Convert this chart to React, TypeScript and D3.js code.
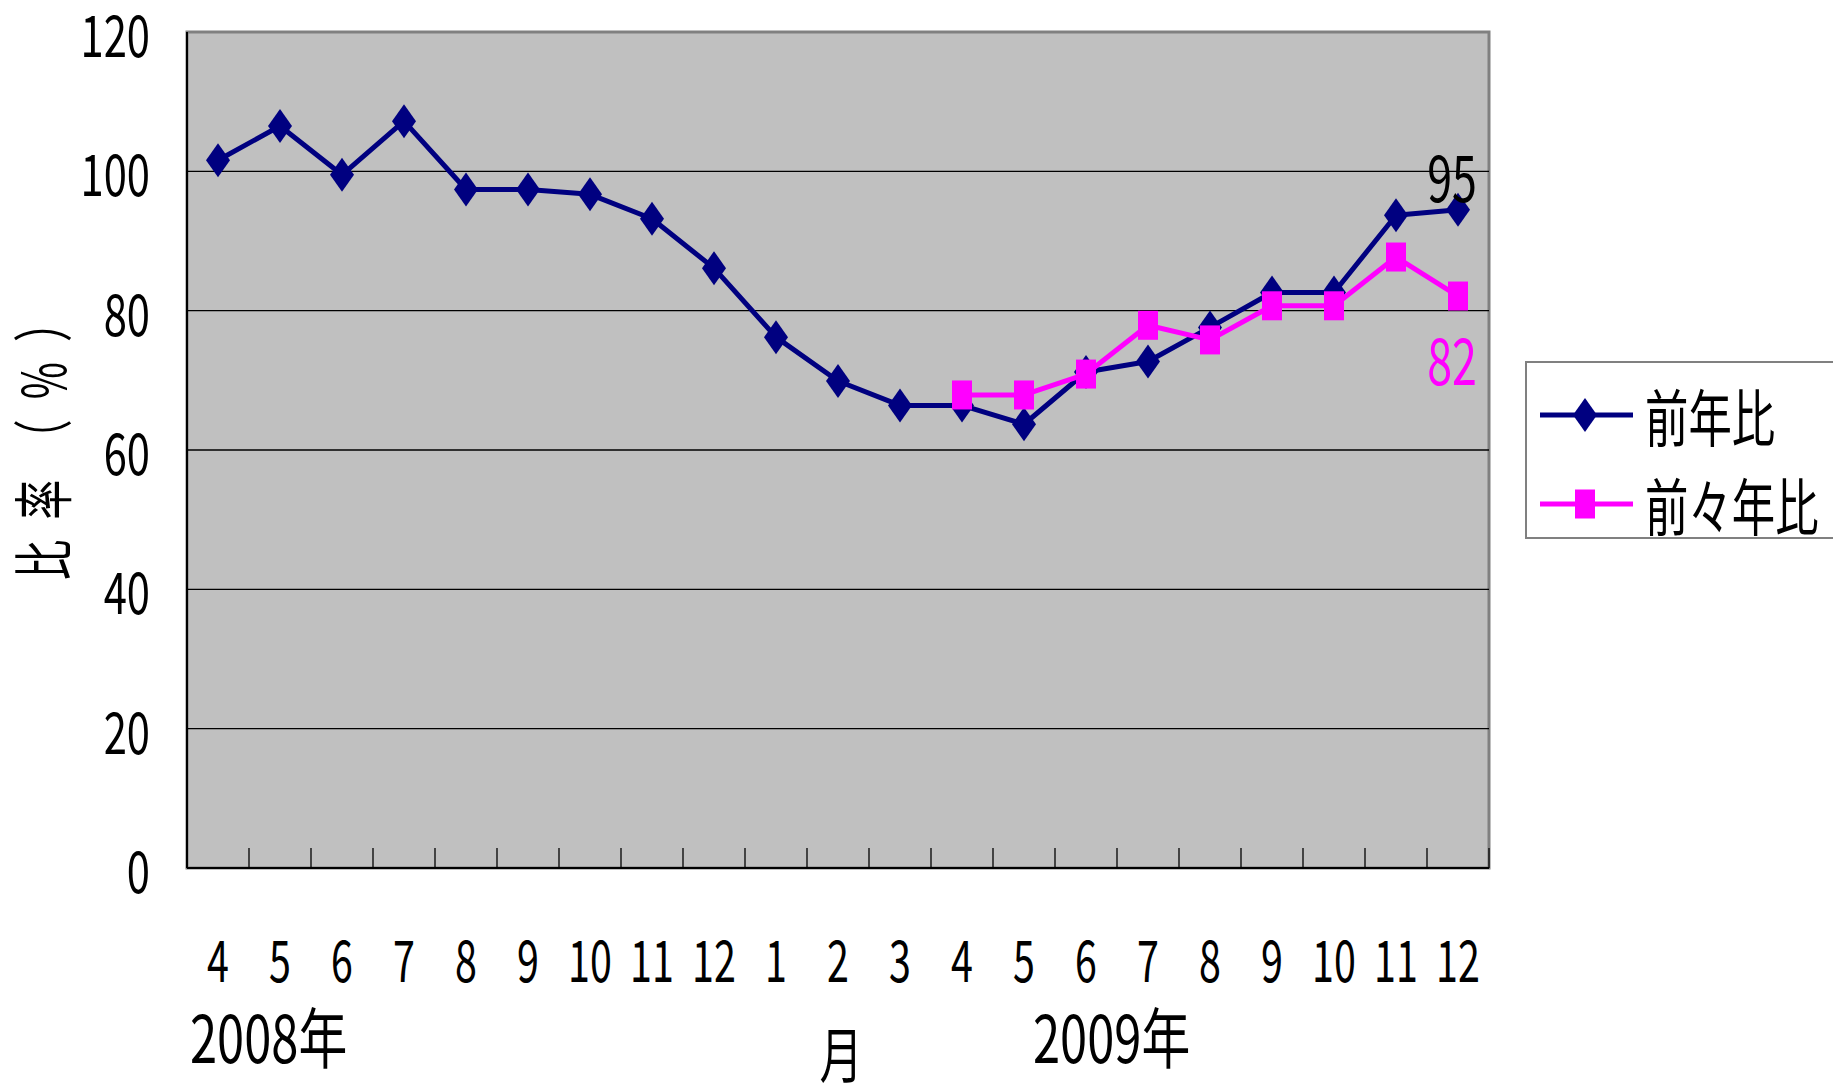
import React from 'react';
import * as d3 from 'd3';

// Chart data
const months: string[] = ['4', '5', '6', '7', '8', '9', '10', '11', '12', '1', '2', '3', '4', '5', '6', '7', '8', '9', '10', '11', '12'];
const yearLabels: string[] = ['2008年', '2009年'];
const seriesNames: string[] = ['前年比', '前々年比'];
const yoy: number[] = [101.6, 106.5, 99.5, 107.2, 97.4, 97.4, 96.7, 93.2, 86.1, 76.2, 69.9, 66.4, 66.4, 63.7, 71.2, 72.7, 77.6, 82.6, 82.6, 93.7, 94.5];
const yo2y: (number | null)[] = [null, null, null, null, null, null, null, null, null, null, null, null, 67.9, 67.9, 70.9, 77.9, 75.8, 80.7, 80.7, 87.7, 82.1];
const yTicks: number[] = [0, 20, 40, 60, 80, 100, 120];
const endLabels: string[] = ['95', '82'];

const W = 1833;
const H = 1089;
const plot = { left: 187, right: 1489, top: 32, bottom: 868 };
const NAVY = '#000080';
const MAGENTA = '#FF00FF';
const FONT = '"Noto Sans CJK JP", sans-serif';

// Horizontally squeezed text, to mimic the tall narrow glyphs of the original
const SqText: React.FC<{
  x: number; y: number; size: number; sx?: number;
  anchor?: 'start' | 'middle' | 'end'; fill?: string; children: React.ReactNode;
}> = ({ x, y, size, sx = 0.7, anchor = 'start', fill = '#000', children }) => (
  <text
    transform={`translate(${x},${y}) scale(${sx},1)`}
    fontFamily={FONT}
    fontSize={size}
    textAnchor={anchor}
    fill={fill}
  >
    {children}
  </text>
);

const diamond = (cx: number, cy: number) =>
  `M${cx},${cy - 17}L${cx + 12},${cy}L${cx},${cy + 17}L${cx - 12},${cy}Z`;

const App: React.FC = () => {
  const xScale = d3.scaleBand<number>()
    .domain(d3.range(months.length))
    .range([plot.left, plot.right])
    .paddingInner(0)
    .paddingOuter(0);

  const yScale = d3.scaleLinear()
    .domain([0, 120])
    .range([plot.bottom, plot.top]);

  const cx = (i: number) => (xScale(i) ?? 0) + xScale.bandwidth() / 2;

  const line = d3.line<number | null>()
    .defined(d => d !== null)
    .x((_, i) => cx(i))
    .y(d => yScale(d as number));

  const last = months.length - 1;

  return (
    <svg
      width={W}
      height={H}
      style={{ position: 'absolute', left: 0, top: 0, display: 'block', background: '#fff' }}
    >
      {/* Plot area */}
      <rect
        x={plot.left}
        y={plot.top}
        width={plot.right - plot.left}
        height={plot.bottom - plot.top}
        fill="#C0C0C0"
        stroke="#808080"
        strokeWidth={3}
      />

      {/* Grid lines */}
      {yTicks.filter(t => t > 0 && t < 120).map(t => (
        <line
          key={`grid-${t}`}
          x1={plot.left}
          x2={plot.right}
          y1={yScale(t)}
          y2={yScale(t)}
          stroke="#000"
          strokeWidth={1.3}
        />
      ))}

      {/* X ticks (inside, at category boundaries) */}
      {d3.range(1, months.length + 1).map(i => {
        const x = i === months.length ? plot.right : (xScale(i) ?? 0);
        return (
          <line key={`xt-${i}`} x1={x} x2={x} y1={plot.bottom} y2={plot.bottom - 20} stroke="#000" strokeWidth={1.3} />
        );
      })}

      {/* Axes */}
      <line x1={plot.left} x2={plot.left} y1={plot.top} y2={plot.bottom} stroke="#000" strokeWidth={2} />
      <line x1={plot.left} x2={plot.right} y1={plot.bottom} y2={plot.bottom} stroke="#000" strokeWidth={2} />

      {/* Y tick labels */}
      {yTicks.map(t => (
        <SqText key={`yl-${t}`} x={150} y={yScale(t) + 25} size={58} sx={0.72} anchor="end">
          {t}
        </SqText>
      ))}

      {/* Y axis title */}
      <text
        transform="translate(66,580) rotate(-90) scale(0.67,1)"
        fontFamily={FONT}
        fontSize={60}
        letterSpacing={30}
        textAnchor="start"
      >
        比率（%）
      </text>

      {/* X tick labels */}
      {months.map((m, i) => (
        <SqText key={`xl-${i}`} x={cx(i)} y={982} size={58} sx={0.68} anchor="middle">
          {m}
        </SqText>
      ))}

      {/* Year labels and axis title */}
      <SqText x={190} y={1063} size={66} sx={0.74}>{yearLabels[0]}</SqText>
      <SqText x={1033} y={1063} size={66} sx={0.74}>{yearLabels[1]}</SqText>
      <SqText x={841} y={1078} size={60} sx={0.72} anchor="middle">月</SqText>

      {/* 前年比 series */}
      <path d={line(yoy) || ''} fill="none" stroke={NAVY} strokeWidth={5} strokeLinejoin="round" />
      {yoy.map((v, i) => (
        <path key={`d-${i}`} d={diamond(cx(i), yScale(v))} fill={NAVY} />
      ))}

      {/* 前々年比 series */}
      <path d={line(yo2y) || ''} fill="none" stroke={MAGENTA} strokeWidth={5} strokeLinejoin="round" />
      {yo2y.map((v, i) => v === null ? null : (
        <rect key={`s-${i}`} x={cx(i) - 10} y={yScale(v) - 14.5} width={20} height={29} fill={MAGENTA} />
      ))}

      {/* End labels */}
      <SqText x={cx(last) - 6} y={yScale(yoy[last]) - 8} size={64} sx={0.7} anchor="middle">
        {endLabels[0]}
      </SqText>
      <SqText x={cx(last) - 6} y={yScale(yo2y[last] as number) + 89} size={64} sx={0.7} anchor="middle" fill={MAGENTA}>
        {endLabels[1]}
      </SqText>

      {/* Legend */}
      <g>
        <rect x={1526} y={362} width={330} height={176} fill="#fff" stroke="#808080" strokeWidth={2} />
        <line x1={1540} x2={1633} y1={415} y2={415} stroke={NAVY} strokeWidth={5} />
        <path d={diamond(1585, 415)} fill={NAVY} />
        <line x1={1540} x2={1633} y1={504} y2={504} stroke={MAGENTA} strokeWidth={5} />
        <rect x={1575} y={504 - 14.5} width={20} height={29} fill={MAGENTA} />
        <text transform="translate(1645,415) scale(0.7,1)" fontFamily={FONT} fontSize={62} dominantBaseline="central">
          {seriesNames[0]}
        </text>
        <text transform="translate(1645,504) scale(0.7,1)" fontFamily={FONT} fontSize={62} dominantBaseline="central">
          {seriesNames[1]}
        </text>
      </g>
    </svg>
  );
};

export default App;
